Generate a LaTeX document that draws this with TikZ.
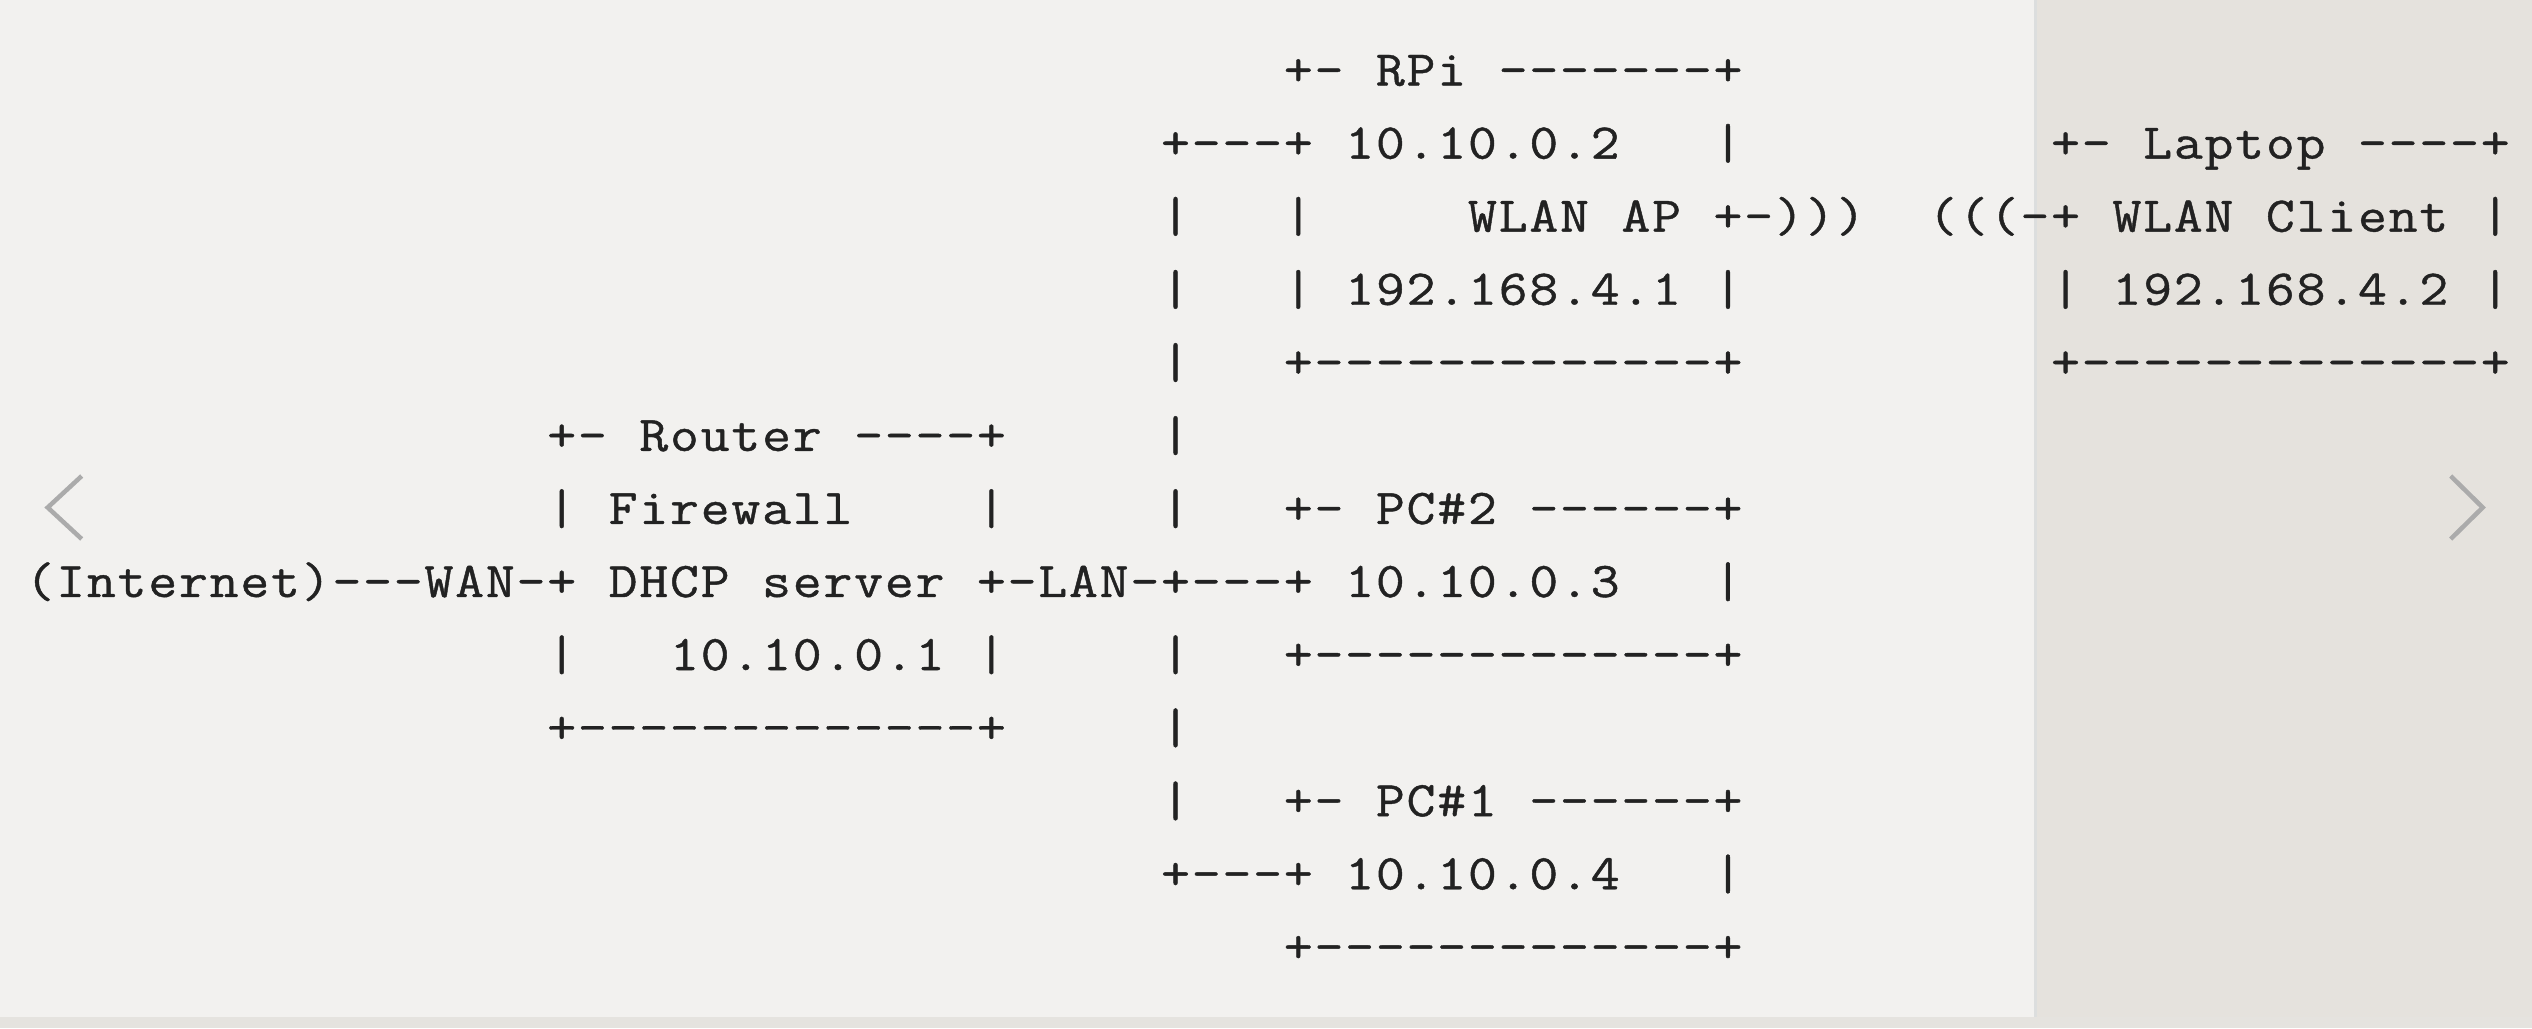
\documentclass[tikz,border=0pt]{standalone}
\usepackage{fontspec}
\usepackage{graphicx}
\setmonofont{Latin Modern Mono}[FakeBold=0.8]
\definecolor{bgmain}{HTML}{F2F1EF}
\definecolor{bgpanel}{HTML}{E5E2DD}
\definecolor{bgstrip}{HTML}{E5E3DF}
\definecolor{paneledge}{HTML}{DCDEDE}
\definecolor{txt}{HTML}{222222}
\definecolor{chev}{HTML}{ABABAB}
\newlength\gridcellw
\setlength\gridcellw{30.69pt}
\def\gridtxt#1{\ifx#1\relax\else\makebox[\gridcellw][c]{\scalebox{1.12}[1]{#1}}\expandafter\gridtxt\fi}
\tikzset{
  ascii/.style={anchor=base west, inner sep=0pt, outer sep=0pt, text=txt,
    font=\ttfamily\fontsize{50}{60}\selectfont},
  chevron/.style={draw=chev, line width=4.5pt, line cap=butt, line join=miter}
}
\newcommand\artline[4]{\node[ascii] (#1) at ({24.65+#2*30.69},{85.5+#3*73.07}) {\gridtxt #4\relax};}
\begin{document}
\begin{tikzpicture}[x=1pt,y=-1pt]
\useasboundingbox (0,0) rectangle (2532,1028);
\fill[bgmain] (0,0) rectangle (2532,1028);
\fill[bgpanel] (2034,0) rectangle (2532,1017);
\fill[paneledge] (2034,0) rectangle (2037,1017);
\fill[bgstrip] (0,1017) rectangle (2532,1028);
% navigation chevrons
\coordinate (lt) at (81.7,476);
\coordinate (lm) at (47.7,507.5);
\coordinate (lb) at (81.7,539);
\draw[chevron] (lt) -- (lm) -- (lb);
\coordinate (rt) at (2450.7,476);
\coordinate (rm) at (2482.7,507.5);
\coordinate (rb) at (2450.7,539);
\draw[chevron] (rt) -- (rm) -- (rb);
% row 0
\artline{rpiTop}{41}{0}{+-~RPi~-------+}
% row 1
\artline{rpiIp}{37}{1}{+---+~10.10.0.2~~~|}
\artline{lapTop}{66}{1}{+-~Laptop~----+}
% row 2
\artline{busA}{37}{2}{|}
\artline{rpiL}{41}{2}{|}
\artline{rpiAp}{47}{2}{WLAN~AP~+-)))}
\artline{lapWl}{62}{2}{(((-+~WLAN~Client~|}
% row 3
\artline{rpiWip}{37}{3}{|~~~|~192.168.4.1~|}
\artline{lapIp}{66}{3}{|~192.168.4.2~|}
% row 4
\artline{rpiBot}{37}{4}{|~~~+-------------+}
\artline{lapBot}{66}{4}{+-------------+}
% row 5
\artline{rtTop}{17}{5}{+-~Router~----+}
\artline{busB}{37}{5}{|}
% row 6
\artline{rtFw}{17}{6}{|~Firewall~~~~|}
\artline{pcTwoTop}{37}{6}{|~~~+-~PC\#2~------+}
% row 7
\artline{inet}{0}{7}{(Internet)---WAN-+~DHCP~server~+-LAN-+---+~10.10.0.3~~~|}
% row 8
\artline{rtIp}{17}{8}{|~~~10.10.0.1~|}
\artline{pcTwoBot}{37}{8}{|~~~+-------------+}
% row 9
\artline{rtBot}{17}{9}{+-------------+}
\artline{busC}{37}{9}{|}
% row 10
\artline{pcOneTop}{37}{10}{|~~~+-~PC\#1~------+}
% row 11
\artline{pcOneIp}{37}{11}{+---+~10.10.0.4~~~|}
% row 12
\artline{pcOneBot}{41}{12}{+-------------+}
\end{tikzpicture}
\end{document}
